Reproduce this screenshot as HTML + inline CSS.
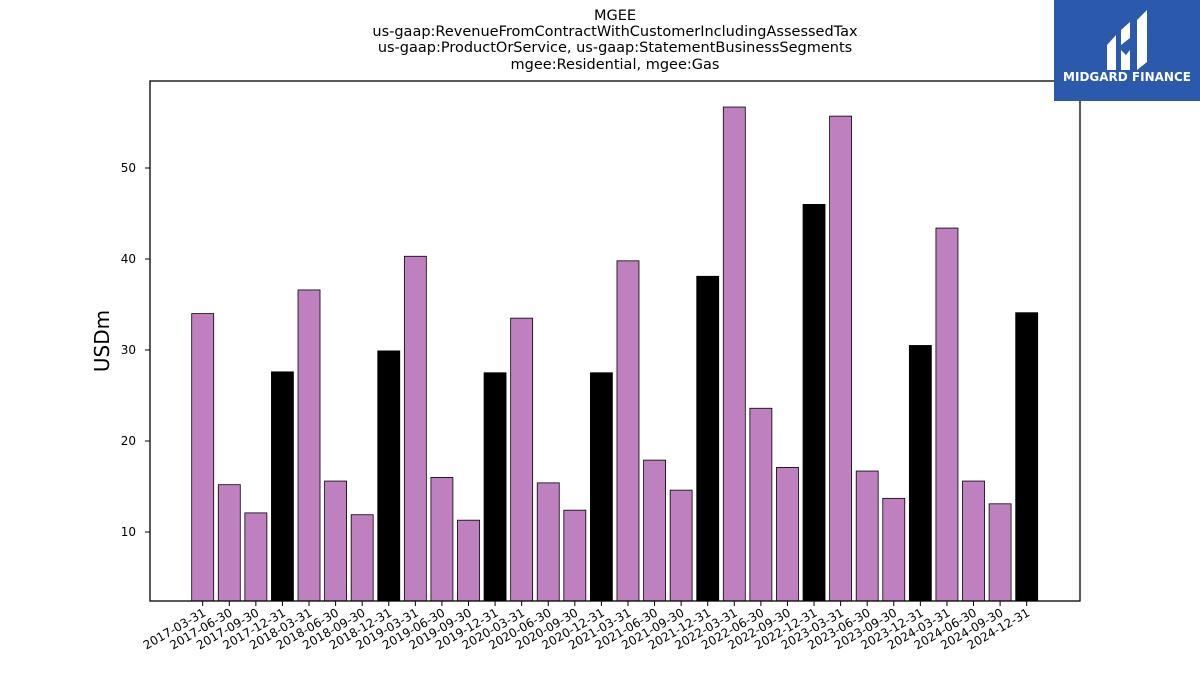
<!DOCTYPE html>
<html><head><meta charset="utf-8"><style>
body{margin:0;background:#fff;}
svg text{font-family:"DejaVu Sans","Liberation Sans",sans-serif;}
</style></head><body>
<svg id="chart" width="1200" height="675" xmlns="http://www.w3.org/2000/svg">
<g font-size="14.5" text-anchor="middle" fill="#000">
<text x="615" y="20">MGEE</text>
<text x="615" y="36">us-gaap:RevenueFromContractWithCustomerIncludingAssessedTax</text>
<text x="615" y="52">us-gaap:ProductOrService, us-gaap:StatementBusinessSegments</text>
<text x="615" y="69">mgee:Residential, mgee:Gas</text>
</g>
<g id="bars"></g>
<rect x="150" y="81" width="930" height="520" fill="none" stroke="#000" stroke-width="1.3"/>
<g id="yaxis"></g>
<g id="xaxis"></g>
<text x="0" y="0" transform="translate(109,341) rotate(-90)" text-anchor="middle" font-size="20">USDm</text>
<g>
<rect x="1054" y="0" width="146" height="101" fill="#2b5aad"/>
<path d="M1107 45 L1116 35 L1116 70 L1107 70 Z M1121 30 L1130 22 L1130 38 L1121 45 Z M1121 50 L1126 55 L1130 50 L1130 70 L1121 70 Z M1137 20 L1147 10 L1147 62 L1137 70 Z" fill="#fff"/>
<text x="1127" y="81" text-anchor="middle" font-size="12" font-weight="bold" fill="#fff">MIDGARD FINANCE</text>
</g>
</svg>
<script>
const categories=["2017-03-31","2017-06-30","2017-09-30","2017-12-31","2018-03-31","2018-06-30","2018-09-30","2018-12-31","2019-03-31","2019-06-30","2019-09-30","2019-12-31","2020-03-31","2020-06-30","2020-09-30","2020-12-31","2021-03-31","2021-06-30","2021-09-30","2021-12-31","2022-03-31","2022-06-30","2022-09-30","2022-12-31","2023-03-31","2023-06-30","2023-09-30","2023-12-31","2024-03-31","2024-06-30","2024-09-30","2024-12-31"];
const values=[34.0,15.2,12.1,27.6,36.6,15.6,11.9,29.9,40.3,16.0,11.3,27.5,33.5,15.4,12.4,27.5,39.8,17.9,14.6,38.1,56.7,23.6,17.1,46.0,55.7,16.7,13.7,30.5,43.4,15.6,13.1,34.1];
const yTicks=[10,20,30,40,50];
const NS="http://www.w3.org/2000/svg";
const yMin=2.42,yMax=59.56,yTop=81,yBot=601;
function y(v){return yBot-(v-yMin)/(yMax-yMin)*(yBot-yTop);}
function x(i){return 202.7+i*26.58;}
const bars=document.getElementById('bars'),xa=document.getElementById('xaxis'),ya=document.getElementById('yaxis');
function mk(t,a){const e=document.createElementNS(NS,t);for(const k in a)e.setAttribute(k,a[k]);return e;}
values.forEach((v,i)=>{
const q4=categories[i].endsWith('12-31');
const r=mk('rect',{x:x(i)-11,y:y(v),width:22,height:yBot-y(v),fill:q4?'#000':'#bf80bf',stroke:'#000','stroke-width':0.8});


bars.appendChild(r);
const tk=mk('line',{x1:x(i),x2:x(i),y1:yBot,y2:yBot+5,stroke:'#000','stroke-width':1});


xa.appendChild(tk);
const t=mk('text',{x:0,y:0,transform:`translate(${x(i)+4},${yBot+14}) rotate(-30)`,'text-anchor':'end','font-size':12});
t.textContent=categories[i];


xa.appendChild(t);
});
yTicks.forEach(v=>{
const tk=mk('line',{x1:145,x2:150,y1:y(v),y2:y(v),stroke:'#000','stroke-width':1});


ya.appendChild(tk);
const t=mk('text',{x:136,y:y(v)+4,'text-anchor':'end','font-size':12});
t.textContent=v;


ya.appendChild(t);
});
</script>
</body></html>
